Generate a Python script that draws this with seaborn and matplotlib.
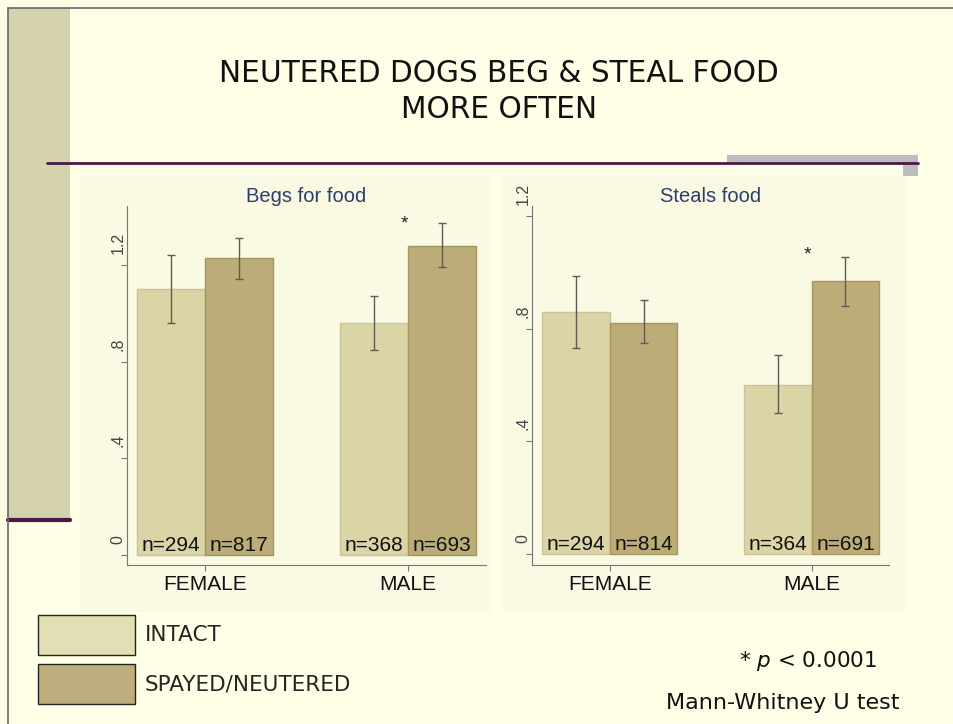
import numpy as np
import pandas as pd
import matplotlib
matplotlib.use('Agg')
import matplotlib.pyplot as plt
import matplotlib.transforms as mtransforms
from matplotlib.patches import Rectangle, Patch
from matplotlib.lines import Line2D
import seaborn as sns

# === Data ===
sexes = ['FEMALE', 'MALE']
groups = ['INTACT', 'SPAYED/NEUTERED']

beg_intact = [1.10, 0.96]
beg_spayed = [1.23, 1.28]
beg_intact_lo = [0.96, 0.85]
beg_intact_hi = [1.24, 1.07]
beg_spayed_lo = [1.14, 1.19]
beg_spayed_hi = [1.31, 1.375]
beg_n_intact = ['n=294', 'n=368']
beg_n_spayed = ['n=817', 'n=693']

steal_intact = [0.86, 0.60]
steal_spayed = [0.82, 0.97]
steal_intact_lo = [0.73, 0.50]
steal_intact_hi = [0.985, 0.705]
steal_spayed_lo = [0.75, 0.88]
steal_spayed_hi = [0.90, 1.055]
steal_n_intact = ['n=294', 'n=364']
steal_n_spayed = ['n=814', 'n=691']

star_y = [1.37, 1.06]   # height of the "*" above MALE in each panel
yticks = [0, 0.4, 0.8, 1.2]
ytick_labels = ['0', '.4', '.8', '1.2']

# === Style ===
bg = '#FFFFE7'
panel_bg = '#F9F9E4'
c_intact = '#DAD4A6'
c_spayed = '#BCAD78'
e_intact = '#CBC393'
e_spayed = '#A4955F'
sns.set_style('white')
plt.rcParams['font.family'] = ['Liberation Sans', 'DejaVu Sans']

W, H = 954, 724
fig = plt.figure(figsize=(W / 100, H / 100), dpi=100, facecolor=bg)

def px_rect(x0, y0, x1, y1, **kw):
    # rectangle in pixel coords (origin top-left)
    r = Rectangle((x0 / W, 1 - y1 / H), (x1 - x0) / W, (y1 - y0) / H,
                  transform=fig.transFigure, zorder=-5, **kw)
    fig.patches.append(r)

# slide decoration
px_rect(8, 8, 70, 520, facecolor='#D5D3AB', edgecolor='none')
px_rect(80, 176, 490, 612, facecolor=panel_bg, edgecolor='none')
px_rect(503, 176, 905, 612, facecolor=panel_bg, edgecolor='none')
px_rect(727, 155, 918, 163, facecolor='#BDBDBD', edgecolor='none')
px_rect(903, 163, 918, 176, facecolor='#BDBDBD', edgecolor='none')
for xs, ys, col, lw in [([47, 918], [163, 163], '#4A1947', 2),
                        ([8, 70], [520, 520], '#4A1947', 3),
                        ([8, 8], [8, 724], '#666666', 1.2),
                        ([8, 954], [8, 8], '#666666', 1.2)]:
    fig.lines.append(Line2D([x / W for x in xs], [1 - y / H for y in ys],
                            transform=fig.transFigure, color=col, lw=lw, zorder=-4))

# === Title ===
fig.text(499 / W, 1 - 73 / H, 'NEUTERED DOGS BEG & STEAL FOOD', ha='center', va='center',
         fontsize=21.3, family='DejaVu Sans', color='#111111')
fig.text(499 / W, 1 - 110 / H, 'MORE OFTEN', ha='center', va='center',
         fontsize=21.3, family='DejaVu Sans', color='#111111')

def make_df(intact, spayed):
    return pd.DataFrame({
        'sex': sexes * 2,
        'group': [groups[0]] * 2 + [groups[1]] * 2,
        'value': list(intact) + list(spayed),
    })

def draw_panel(ax, title, intact, spayed, lo, hi, n_labels, star, ylim):
    df = make_df(intact, spayed)
    sns.barplot(data=df, x='sex', y='value', hue='group', hue_order=groups, order=sexes,
                palette=[c_intact, c_spayed], width=0.67, errorbar=None, legend=False,
                saturation=1, ax=ax)
    edges = [e_intact, e_spayed]
    bar_conts = list(ax.containers)
    for k, cont in enumerate(bar_conts):
        for j, bar in enumerate(cont.patches):
            bar.set_edgecolor(edges[k])
            bar.set_linewidth(1)
            cx = bar.get_x() + bar.get_width() / 2
            ax.errorbar(cx, bar.get_height(),
                        yerr=[[bar.get_height() - lo[k][j]], [hi[k][j] - bar.get_height()]],
                        fmt='none', ecolor='#5C5C50', elinewidth=1, capsize=3, capthick=1)
            ax.annotate(n_labels[k][j], (cx, 0), xytext=(0, 3.2), textcoords='offset points',
                        ha='center', va='baseline', fontsize=15, color='#111111')
    ax.text(0.98, star, '*', ha='center', va='center', fontsize=14, color='#222222')
    ax.set_ylim(*ylim)
    ax.set_xlim(-0.385, 1.383)
    ax.set_facecolor('none')
    ax.set_xlabel('')
    ax.set_ylabel('')
    ax.set_yticks(yticks)
    ax.set_yticklabels(ytick_labels, rotation=90, fontsize=11.5, color='#444444')
    ax.tick_params(axis='y', length=4, width=0.8, color='#777777', pad=-3, left=True)
    ax.tick_params(axis='x', length=4, width=0.8, color='#777777', pad=3, bottom=True,
                   labelsize=15, labelcolor='#111111')
    offset = mtransforms.ScaledTranslation(0, 0.11, fig.dpi_scale_trans)
    for lab in ax.get_yticklabels():
        lab.set_va('bottom')
        lab.set_transform(lab.get_transform() + offset)
    sns.despine(ax=ax)
    for s in ['left', 'bottom']:
        ax.spines[s].set_color('#777777')
        ax.spines[s].set_linewidth(0.8)
    ax.set_title(title, color='#2E3D6B', fontsize=14.5, pad=3)

ax1 = fig.add_axes([127 / W, 1 - 565 / H, 359 / W, 359 / H])
ax2 = fig.add_axes([532 / W, 1 - 565 / H, 357 / W, 359 / H])

draw_panel(ax1, 'Begs for food', beg_intact, beg_spayed,
           [beg_intact_lo, beg_spayed_lo], [beg_intact_hi, beg_spayed_hi],
           [beg_n_intact, beg_n_spayed], star_y[0], (-0.041, 1.444))
draw_panel(ax2, 'Steals food', steal_intact, steal_spayed,
           [steal_intact_lo, steal_spayed_lo], [steal_intact_hi, steal_spayed_hi],
           [steal_n_intact, steal_n_spayed], star_y[1], (-0.039, 1.235))

# === Legend ===
handles = [Patch(facecolor='#E3DFB4', edgecolor='#222222', lw=1),
           Patch(facecolor='#BDAE7E', edgecolor='#222222', lw=1)]
fig.legend(handles, groups, loc='upper left', bbox_to_anchor=(38 / W, 1 - 615 / H),
           frameon=False, borderpad=0, borderaxespad=0, handlelength=4.5, handleheight=2.45,
           handletextpad=0.45, labelspacing=0.45, prop={'family': 'DejaVu Sans', 'size': 15.5})

fig.text(808 / W, 1 - 661 / H, '* $\\it{p}$ < 0.0001', ha='center', va='center',
         fontsize=15.5, family='DejaVu Sans', color='#111111')
fig.text(783 / W, 1 - 703 / H, 'Mann-Whitney U test', ha='center', va='center',
         fontsize=16, family='DejaVu Sans', color='#111111')

fig.savefig('out.png', dpi=100, facecolor=bg)
